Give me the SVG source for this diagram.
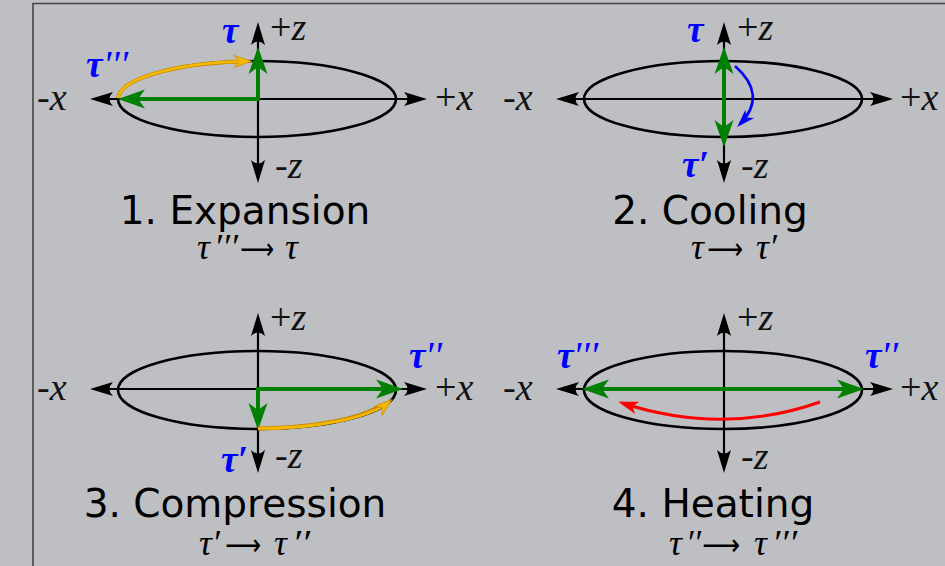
<svg xmlns="http://www.w3.org/2000/svg" width="945" height="566" viewBox="0 0 945 566">
<defs>
<style>
.axis{stroke:#000;stroke-width:2.2;fill:none}
.ell{stroke:#000;stroke-width:2.6;fill:none}
.grn{stroke:#008000;stroke-width:4;fill:none}
.ax{font-family:"Liberation Serif","Times New Roman",serif;font-size:38px;fill:#111}
.it{font-style:italic}
.lbl{font-family:"Liberation Serif","Times New Roman",serif;font-size:37px;font-style:italic;font-weight:bold;fill:#0000ff}
.ttl{font-family:"DejaVu Sans","Liberation Sans",sans-serif;font-size:39px;fill:#000;text-anchor:middle}
.cap{font-family:"Liberation Serif","Times New Roman",serif;font-size:36px;font-style:italic;fill:#000}
.arr{font-family:"DejaVu Sans","Liberation Sans",sans-serif;font-style:normal;font-size:30px}
.yel{fill:none;stroke:#f5b800;stroke-width:2.6}
.yelo{fill:none;stroke:#c88a00;stroke-width:4}
</style>
<marker id="ka" markerUnits="userSpaceOnUse" orient="auto-start-reverse" markerWidth="40" markerHeight="20" viewBox="-20 -10 40 20" refX="0" refY="0" overflow="visible">
<path d="M8,0 L-15,-7 Q-8,0 -15,7 Z" fill="#000"/>
</marker>
<marker id="ga" markerUnits="userSpaceOnUse" orient="auto-start-reverse" markerWidth="60" markerHeight="30" viewBox="-30 -15 60 30" refX="0" refY="0" overflow="visible">
<path d="M6,0 L-21,-9.5 L-14,0 L-21,9.5 Z" fill="#008000"/>
</marker>
<marker id="ya" markerUnits="userSpaceOnUse" orient="auto" markerWidth="40" markerHeight="20" viewBox="-20 -10 40 20" refX="0" refY="0" overflow="visible">
<path d="M4,0 L-14,-6 L-9,0 L-14,6 Z" fill="#f5b800" stroke="#c88a00" stroke-width="0.7"/>
</marker>
<marker id="ba" markerUnits="userSpaceOnUse" orient="auto" markerWidth="40" markerHeight="20" viewBox="-20 -10 40 20" refX="0" refY="0" overflow="visible">
<path d="M4,0 L-14,-6 L-9,0 L-14,6 Z" fill="#0000ff"/>
</marker>
<marker id="ra" markerUnits="userSpaceOnUse" orient="auto" markerWidth="40" markerHeight="20" viewBox="-20 -10 40 20" refX="0" refY="0" overflow="visible">
<path d="M4,0 L-16,-6.5 L-11,0 L-16,6.5 Z" fill="#ff0000"/>
</marker>
</defs>
<rect x="0" y="0" width="945" height="566" fill="#bebfc3"/>
<path d="M33,566 L33,3.5 L945,3.5" fill="none" stroke="#444" stroke-width="1.6"/>

<g id="panel1">
<ellipse class="ell" cx="257" cy="99" rx="139" ry="38"/>
<line class="axis" x1="98" y1="99" x2="419" y2="99" marker-start="url(#ka)" marker-end="url(#ka)"/>
<line class="axis" x1="258" y1="30" x2="258" y2="175" marker-start="url(#ka)" marker-end="url(#ka)"/>
<line class="grn" x1="260" y1="99" x2="124" y2="99" marker-end="url(#ga)"/>
<line class="grn" x1="258" y1="101" x2="258" y2="53" marker-end="url(#ga)"/>
<path class="yelo" d="M118,98 A139,38 0 0 1 240,61.5"/>
<path class="yel" d="M118,98 A139,38 0 0 1 248,61.2" marker-end="url(#ya)"/>
<text class="ax" x="270" y="40">+<tspan class="it">z</tspan></text>
<text class="ax" x="37" y="110">-<tspan class="it">x</tspan></text>
<text class="ax" x="435" y="110">+<tspan class="it">x</tspan></text>
<text class="ax" x="275" y="178">-<tspan class="it">z</tspan></text>
<text class="lbl" x="222" y="43">τ</text>
<text class="lbl" x="86" y="77">τ<tspan x="105" textLength="25" lengthAdjust="spacingAndGlyphs">′′′</tspan></text>
<text class="ttl" x="245" y="224">1. Expansion</text>
<text class="cap" x="197" y="259">τ<tspan x="214" textLength="24" lengthAdjust="spacingAndGlyphs">′′′</tspan><tspan class="arr" x="240" textLength="34" lengthAdjust="spacingAndGlyphs">⟶</tspan><tspan x="285">τ</tspan></text>
</g>

<g id="panel2">
<ellipse class="ell" cx="723" cy="99" rx="139" ry="38"/>
<line class="axis" x1="564" y1="99" x2="885" y2="99" marker-start="url(#ka)" marker-end="url(#ka)"/>
<line class="axis" x1="724" y1="30" x2="724" y2="175" marker-start="url(#ka)" marker-end="url(#ka)"/>
<line class="grn" x1="724" y1="53" x2="724" y2="141" marker-start="url(#ga)" marker-end="url(#ga)"/>
<path d="M735,66 Q768,95 740,124" fill="none" stroke="#0000ff" stroke-width="2.6" marker-end="url(#ba)"/>
<text class="ax" x="737" y="40">+<tspan class="it">z</tspan></text>
<text class="ax" x="503" y="110">-<tspan class="it">x</tspan></text>
<text class="ax" x="900" y="110">+<tspan class="it">x</tspan></text>
<text class="ax" x="741" y="178">-<tspan class="it">z</tspan></text>
<text class="lbl" x="687" y="42">τ</text>
<text class="lbl" x="682" y="177">τ′</text>
<text class="ttl" x="710" y="224">2. Cooling</text>
<text class="cap" x="691" y="259">τ<tspan class="arr" x="707" textLength="36" lengthAdjust="spacingAndGlyphs">⟶</tspan><tspan x="756">τ′</tspan></text>
</g>

<g id="panel3">
<ellipse class="ell" cx="257" cy="390" rx="139" ry="39"/>
<line class="axis" x1="98" y1="389" x2="419" y2="389" marker-start="url(#ka)" marker-end="url(#ka)"/>
<line class="axis" x1="258" y1="321" x2="258" y2="465" marker-start="url(#ka)" marker-end="url(#ka)"/>
<line class="grn" x1="256" y1="389" x2="397" y2="389" marker-end="url(#ga)"/>
<line class="grn" x1="258" y1="387" x2="258" y2="424" marker-end="url(#ga)"/>
<path class="yelo" d="M258,428.5 A139,39 0 0 0 382,405"/>
<path class="yel" d="M258,428.5 A139,39 0 0 0 389,402" marker-end="url(#ya)"/>
<text class="ax" x="270" y="330">+<tspan class="it">z</tspan></text>
<text class="ax" x="37" y="400">-<tspan class="it">x</tspan></text>
<text class="ax" x="435" y="400">+<tspan class="it">x</tspan></text>
<text class="ax" x="275" y="468">-<tspan class="it">z</tspan></text>
<text class="lbl" x="409" y="368">τ<tspan x="427" textLength="17" lengthAdjust="spacingAndGlyphs">′′</tspan></text>
<text class="lbl" x="221" y="472">τ′</text>
<text class="ttl" x="235" y="517">3. Compression</text>
<text class="cap" x="199" y="555">τ′<tspan class="arr" x="225" textLength="36" lengthAdjust="spacingAndGlyphs">⟶</tspan><tspan x="274">τ</tspan><tspan x="292" textLength="18" lengthAdjust="spacingAndGlyphs">′′</tspan></text>
</g>

<g id="panel4">
<ellipse class="ell" cx="723" cy="390" rx="139" ry="39"/>
<line class="axis" x1="564" y1="389" x2="885" y2="389" marker-start="url(#ka)" marker-end="url(#ka)"/>
<line class="axis" x1="724" y1="321" x2="724" y2="465" marker-start="url(#ka)" marker-end="url(#ka)"/>
<line class="grn" x1="588" y1="389" x2="858" y2="389" marker-start="url(#ga)" marker-end="url(#ga)"/>
<path d="M820,402 Q724,436 622,403" fill="none" stroke="#ff0000" stroke-width="3" marker-end="url(#ra)"/>
<text class="ax" x="737" y="330">+<tspan class="it">z</tspan></text>
<text class="ax" x="503" y="400">-<tspan class="it">x</tspan></text>
<text class="ax" x="900" y="400">+<tspan class="it">x</tspan></text>
<text class="ax" x="741" y="469">-<tspan class="it">z</tspan></text>
<text class="lbl" x="557" y="368">τ<tspan x="575" textLength="25" lengthAdjust="spacingAndGlyphs">′′′</tspan></text>
<text class="lbl" x="865" y="368">τ<tspan x="883" textLength="17" lengthAdjust="spacingAndGlyphs">′′</tspan></text>
<text class="ttl" x="713" y="517">4. Heating</text>
<text class="cap" x="669" y="555">τ<tspan x="686" textLength="15" lengthAdjust="spacingAndGlyphs">′′</tspan><tspan class="arr" x="702" textLength="38" lengthAdjust="spacingAndGlyphs">⟶</tspan><tspan x="754">τ</tspan><tspan x="772" textLength="25" lengthAdjust="spacingAndGlyphs">′′′</tspan></text>
</g>
</svg>
